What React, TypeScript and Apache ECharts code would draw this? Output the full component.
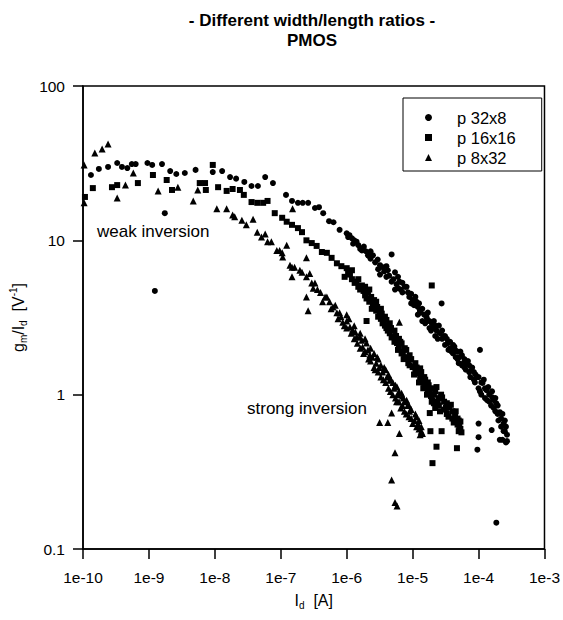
import { useEffect, useRef } from "react";
import * as echarts from "echarts";

// Decade tick labels for the two logarithmic axes
const xTickLabels = ["1e-10", "1e-9", "1e-8", "1e-7", "1e-6", "1e-5", "1e-4", "1e-3"];
const yTickLabels = ["0.1", "1", "10", "100"];

const seriesNames = ["p 32x8", "p 16x16", "p 8x32"];

// [Id (A), gm/Id (1/V)] measurements, W/L = 32/8
const p32x8: [number, number][] = [
  [1.32e-10, 26.5], [1.74e-10, 29.0], [2.4e-10, 29.9], [3.3e-10, 31.7], [3.9e-10, 29.9],
  [4.7e-10, 29.4], [5.5e-10, 31.2], [6.3e-10, 31.2], [9.5e-10, 31.7], [1.12e-9, 30.8],
  [1.23e-9, 4.7], [1.58e-9, 31.2], [1.74e-9, 15.0], [2.1e-9, 28.1], [2.6e-9, 26.9],
  [3.5e-9, 27.3], [5.1e-9, 28.6], [9.3e-9, 27.7], [1.29e-8, 28.1], [1.7e-8, 25.7],
  [2.1e-8, 25.1], [2.8e-8, 23.9], [3.6e-8, 22.5], [4.5e-8, 22.5], [5.8e-8, 25.7],
  [7.6e-8, 23.5], [1.2e-7, 19.7], [1.48e-7, 18.0], [1.82e-7, 17.5], [2.15e-7, 17.5],
  [2.6e-7, 17.5], [3.3e-7, 16.2], [3.8e-7, 16.4], [4.4e-7, 15.0], [5.4e-7, 13.3],
  [6.3e-7, 13.1], [7.8e-7, 11.7], [1.0e-6, 11.1], [1.05e-6, 10.5], [1.1e-6, 10.8],
  [1.2e-6, 10.3], [1.25e-6, 9.5], [1.3e-6, 10.0], [1.41e-6, 9.8], [1.5e-6, 9.3],
  [1.6e-6, 8.8], [1.7e-6, 8.6], [1.82e-6, 9.1], [1.95e-6, 8.5], [2.1e-6, 8.0],
  [2.2e-6, 7.9], [2.3e-6, 7.6], [2.3e-6, 8.5], [2.5e-6, 8.0], [2.7e-6, 7.2],
  [2.95e-6, 7.5], [3.0e-6, 6.5], [3.2e-6, 6.9], [3.2e-6, 6.0], [3.5e-6, 6.7],
  [3.7e-6, 6.3], [4.0e-6, 5.8], [4.0e-6, 6.8], [4.2e-6, 6.4], [4.4e-6, 5.9],
  [4.8e-6, 8.1], [4.8e-6, 5.4], [5.1e-6, 5.6], [5.4e-6, 6.2], [5.4e-6, 4.8],
  [5.7e-6, 5.2], [6.0e-6, 5.8], [6.0e-6, 4.9], [6.3e-6, 5.4], [6.6e-6, 4.8],
  [7.0e-6, 4.6], [7.0e-6, 5.3], [7.6e-6, 5.0], [8.1e-6, 5.0], [8.5e-6, 4.6],
  [8.9e-6, 4.3], [9.5e-6, 4.5], [9.5e-6, 3.9], [1.0e-5, 4.1], [1.05e-5, 3.8],
  [1.1e-5, 4.3], [1.15e-5, 4.0], [1.2e-5, 3.7], [1.2e-5, 3.3], [1.25e-5, 3.9],
  [1.29e-5, 3.5], [1.3e-5, 3.4], [1.4e-5, 3.6], [1.4e-5, 3.0], [1.5e-5, 3.3],
  [1.55e-5, 2.9], [1.62e-5, 3.2], [1.65e-5, 3.1], [1.7e-5, 3.4], [1.8e-5, 3.0],
  [1.8e-5, 2.7], [1.9e-5, 2.6], [1.95e-5, 2.9], [2.0e-5, 2.7], [2.1e-5, 3.0],
  [2.2e-5, 2.8], [2.2e-5, 2.4], [2.3e-5, 2.6], [2.4e-5, 2.3], [2.5e-5, 2.8],
  [2.57e-5, 2.5], [2.75e-5, 3.9], [2.8e-5, 2.3], [2.8e-5, 2.6], [2.9e-5, 2.4],
  [3.1e-5, 2.1], [3.1e-5, 2.4], [3.3e-5, 2.3], [3.4e-5, 2.16], [3.5e-5, 1.95],
  [3.7e-5, 2.0], [3.7e-5, 2.2], [3.9e-5, 1.9], [4.1e-5, 1.85], [4.1e-5, 2.1],
  [4.3e-5, 2.05], [4.4e-5, 1.95], [4.5e-5, 1.75], [4.8e-5, 1.7], [4.8e-5, 1.9],
  [5.0e-5, 1.6], [5.1e-5, 1.75], [5.3e-5, 1.9], [5.6e-5, 1.55], [5.6e-5, 1.8],
  [5.9e-5, 1.6], [6.1e-5, 1.5], [6.1e-5, 1.7], [6.4e-5, 1.45], [6.6e-5, 1.6],
  [6.9e-5, 1.65], [7.2e-5, 1.4], [7.2e-5, 1.55], [7.5e-5, 1.3], [7.8e-5, 1.44],
  [8.0e-5, 1.5], [8.5e-5, 1.25], [8.5e-5, 1.4], [8.8e-5, 1.2], [9.0e-5, 1.35],
  [9.3e-5, 1.3], [9.6e-5, 0.44], [1.0e-4, 1.1], [1.0e-4, 1.3], [1.0e-4, 0.65],
  [1.0e-4, 0.53], [1.05e-4, 1.95], [1.05e-4, 1.05], [1.1e-4, 1.0], [1.1e-4, 1.2],
  [1.15e-4, 1.19], [1.2e-4, 1.25], [1.25e-4, 0.95], [1.25e-4, 1.1], [1.32e-4, 1.07],
  [1.35e-4, 0.92], [1.4e-4, 1.12], [1.45e-4, 0.9], [1.45e-4, 1.0], [1.55e-4, 0.85],
  [1.58e-4, 0.59], [1.6e-4, 1.05], [1.62e-4, 0.96], [1.7e-4, 0.82], [1.7e-4, 0.92],
  [1.8e-4, 0.78], [1.8e-4, 0.95], [1.86e-4, 0.88], [1.86e-4, 0.148], [1.95e-4, 0.75],
  [1.95e-4, 0.85], [2.0e-4, 0.68], [2.1e-4, 0.77], [2.1e-4, 0.51], [2.2e-4, 0.7],
  [2.2e-4, 0.62], [2.3e-4, 0.51], [2.3e-4, 0.75], [2.4e-4, 0.58], [2.4e-4, 0.65],
  [2.5e-4, 0.68], [2.5e-4, 0.58], [2.6e-4, 0.62], [2.6e-4, 0.49], [2.7e-4, 0.55],
  [2.7e-4, 0.5],
];

// W/L = 16/16
const p16x16: [number, number][] = [
  [1.07e-10, 19.1], [1.41e-10, 21.8], [2.75e-10, 22.1], [3.3e-10, 22.8], [6.8e-10, 23.5],
  [1.15e-9, 26.5], [1.86e-9, 24.6], [2.24e-9, 21.2], [5.9e-9, 23.5], [7.1e-9, 23.5],
  [7.3e-9, 21.2], [9.3e-9, 30.8], [1.12e-8, 22.1], [1.51e-8, 20.9], [1.86e-8, 21.5],
  [2.4e-8, 21.2], [2.75e-8, 19.7], [3.6e-8, 17.7], [4.4e-8, 17.5], [5.4e-8, 17.5],
  [6.3e-8, 18.0], [8.1e-8, 15.0], [1.05e-7, 14.0], [1.23e-7, 13.2], [1.48e-7, 12.6],
  [1.82e-7, 12.0], [2.1e-7, 11.3], [2.45e-7, 10.0], [2.95e-7, 9.6], [3.5e-7, 9.2],
  [4.2e-7, 8.4], [5.0e-7, 8.3], [5.9e-7, 7.7], [7.1e-7, 7.1], [8.3e-7, 6.8],
  [9.3e-7, 5.8], [1.0e-6, 6.6], [1.05e-6, 6.2], [1.12e-6, 6.0], [1.2e-6, 5.6],
  [1.2e-6, 6.4], [1.32e-6, 5.3], [1.4e-6, 5.4], [1.5e-6, 5.0], [1.5e-6, 5.6],
  [1.6e-6, 4.8], [1.7e-6, 5.1], [1.74e-6, 4.9], [1.8e-6, 4.7], [1.9e-6, 4.4],
  [1.9e-6, 5.0], [2.0e-6, 3.0], [2.0e-6, 4.2], [2.1e-6, 4.6], [2.2e-6, 4.0],
  [2.2e-6, 4.8], [2.35e-6, 4.3], [2.4e-6, 3.6], [2.5e-6, 3.8], [2.6e-6, 4.1],
  [2.8e-6, 3.5], [2.8e-6, 4.0], [2.9e-6, 3.7], [3.0e-6, 3.2], [3.16e-6, 3.3],
  [3.3e-6, 3.1], [3.3e-6, 3.6], [3.4e-6, 3.35], [3.5e-6, 2.9], [3.65e-6, 3.0],
  [3.8e-6, 2.8], [3.8e-6, 3.2], [4.0e-6, 2.7], [4.0e-6, 3.05], [4.2e-6, 2.6],
  [4.5e-6, 2.5], [4.5e-6, 2.9], [4.7e-6, 2.7], [4.8e-6, 2.35], [5.0e-6, 2.36],
  [5.3e-6, 2.2], [5.3e-6, 2.6], [5.6e-6, 2.4], [5.8e-6, 2.16], [6.0e-6, 1.95],
  [6.2e-6, 2.0], [6.2e-6, 2.3], [6.5e-6, 2.2], [6.8e-6, 1.85], [6.8e-6, 2.15],
  [7.1e-6, 1.89], [7.3e-6, 1.7], [7.6e-6, 1.75], [7.6e-6, 2.0], [8.0e-6, 1.95],
  [8.3e-6, 1.73], [8.6e-6, 1.6], [9.0e-6, 1.55], [9.0e-6, 1.8], [9.5e-6, 1.7],
  [1.0e-5, 1.51], [1.05e-5, 1.35], [1.1e-5, 1.4], [1.1e-5, 1.6], [1.15e-5, 1.5],
  [1.2e-5, 1.38], [1.25e-5, 1.2], [1.3e-5, 1.3], [1.3e-5, 1.48], [1.35e-5, 1.4],
  [1.41e-5, 1.24], [1.45e-5, 1.1], [1.5e-5, 1.15], [1.5e-5, 1.3], [1.55e-5, 1.25],
  [1.62e-5, 1.12], [1.65e-5, 1.0], [1.7e-5, 1.05], [1.7e-5, 1.2], [1.75e-5, 1.15],
  [1.82e-5, 1.02], [1.82e-5, 0.76], [1.86e-5, 0.58], [1.9e-5, 0.98], [1.9e-5, 1.1],
  [1.95e-5, 5.1], [1.95e-5, 0.9], [2.0e-5, 0.92], [2.0e-5, 0.36], [2.1e-5, 0.88],
  [2.1e-5, 1.0], [2.2e-5, 0.82], [2.2e-5, 1.05], [2.3e-5, 1.12], [2.3e-5, 0.46],
  [2.4e-5, 0.9], [2.5e-5, 0.85], [2.5e-5, 0.95], [2.6e-5, 0.78], [2.7e-5, 1.0],
  [2.75e-5, 0.58], [2.8e-5, 0.96], [3.0e-5, 0.8], [3.0e-5, 0.9], [3.2e-5, 0.82],
  [3.3e-5, 0.75], [3.3e-5, 0.88], [3.5e-5, 0.72], [3.6e-5, 0.83], [3.8e-5, 0.86],
  [4.0e-5, 0.7], [4.0e-5, 0.78], [4.2e-5, 0.66], [4.4e-5, 0.72], [4.5e-5, 0.78],
  [4.7e-5, 0.45], [4.8e-5, 0.64], [4.8e-5, 0.7], [5.0e-5, 0.58], [5.0e-5, 0.68],
  [5.1e-5, 0.62], [5.3e-5, 0.6], [5.3e-5, 0.67], [5.5e-5, 0.57],
];

// W/L = 8/32
const p8x32: [number, number][] = [
  [1.04e-10, 30.8], [1.04e-10, 17.5], [1.51e-10, 36.8], [1.95e-10, 39.1], [2.4e-10, 42.1],
  [3.3e-10, 18.8], [4.4e-10, 22.8], [5.8e-10, 27.3], [1.38e-9, 20.9], [2.75e-9, 22.1],
  [4.7e-9, 18.0], [5.5e-9, 21.2], [1.07e-8, 16.0], [1.51e-8, 16.0], [1.86e-8, 14.6],
  [2.0e-8, 14.2], [2.57e-8, 13.5], [3.0e-8, 12.6], [3.8e-8, 13.7], [4.4e-8, 11.3],
  [5.1e-8, 10.5], [5.8e-8, 11.0], [6.3e-8, 9.8], [7.2e-8, 9.8], [8.7e-8, 8.6],
  [9.6e-8, 8.6], [1.05e-7, 8.3], [1.07e-7, 7.8], [1.23e-7, 9.3], [1.38e-7, 6.9],
  [1.48e-7, 6.7], [1.48e-7, 5.8], [1.51e-7, 16.0], [1.62e-7, 6.7], [1.95e-7, 6.4],
  [2.1e-7, 6.2], [2.45e-7, 7.7], [2.45e-7, 5.8], [2.45e-7, 4.3], [2.6e-7, 3.5],
  [2.75e-7, 6.1], [2.95e-7, 5.3], [3.1e-7, 4.9], [3.3e-7, 5.3], [3.6e-7, 4.8],
  [4.0e-7, 4.6], [4.3e-7, 4.0], [4.7e-7, 4.3], [5.0e-7, 4.3], [5.5e-7, 4.0],
  [5.8e-7, 3.6], [6.2e-7, 3.7], [6.7e-7, 3.8], [7.1e-7, 3.4], [7.4e-7, 3.1],
  [7.8e-7, 3.4], [8.2e-7, 3.2], [8.7e-7, 2.95], [9.2e-7, 2.8], [1.0e-6, 3.0],
  [1.0e-6, 2.7], [1.0e-6, 3.3], [1.08e-6, 3.1], [1.12e-6, 2.74], [1.17e-6, 2.5],
  [1.23e-6, 2.62], [1.3e-6, 2.3], [1.3e-6, 2.8], [1.35e-6, 2.55], [1.41e-6, 2.36],
  [1.45e-6, 2.15], [1.58e-6, 2.36], [1.6e-6, 2.0], [1.6e-6, 2.5], [1.7e-6, 2.25],
  [1.74e-6, 2.04], [1.8e-6, 1.85], [1.9e-6, 1.9], [1.9e-6, 2.3], [2.0e-6, 2.16],
  [2.1e-6, 1.95], [2.15e-6, 1.7], [2.24e-6, 1.81], [2.3e-6, 1.65], [2.3e-6, 2.0],
  [2.45e-6, 1.75], [2.6e-6, 1.5], [2.6e-6, 1.85], [2.7e-6, 1.45], [2.8e-6, 1.6],
  [2.9e-6, 1.75], [3.0e-6, 1.4], [3.0e-6, 1.7], [3.1e-6, 1.5], [3.16e-6, 0.66],
  [3.3e-6, 1.3], [3.3e-6, 1.55], [3.5e-6, 1.4], [3.6e-6, 1.25], [3.7e-6, 1.5],
  [3.9e-6, 1.2], [3.9e-6, 1.45], [4.1e-6, 1.3], [4.2e-6, 0.66], [4.3e-6, 1.1],
  [4.3e-6, 1.35], [4.5e-6, 1.24], [4.6e-6, 1.05], [4.7e-6, 1.25], [4.8e-6, 0.76],
  [4.8e-6, 0.28], [5.0e-6, 1.0], [5.0e-6, 1.2], [5.2e-6, 1.1], [5.4e-6, 0.42],
  [5.4e-6, 0.2], [5.5e-6, 0.95], [5.5e-6, 1.15], [5.7e-6, 0.9], [5.8e-6, 1.12],
  [5.8e-6, 0.19], [6.0e-6, 1.0], [6.2e-6, 0.9], [6.2e-6, 1.05], [6.3e-6, 0.56],
  [6.3e-6, 2.95], [6.6e-6, 0.82], [6.8e-6, 1.02], [7.0e-6, 0.85], [7.0e-6, 0.98],
  [7.2e-6, 0.95], [7.5e-6, 0.78], [7.5e-6, 0.9], [8.0e-6, 0.75], [8.1e-6, 0.92],
  [8.4e-6, 0.85], [8.8e-6, 0.72], [8.8e-6, 0.85], [9.0e-6, 0.78], [9.5e-6, 0.7],
  [9.5e-6, 0.8], [1.0e-5, 0.65], [1.07e-5, 0.68], [1.1e-5, 0.75], [1.15e-5, 0.62],
  [1.15e-5, 0.72], [1.2e-5, 0.65], [1.25e-5, 0.6], [1.25e-5, 0.68], [1.3e-5, 0.55],
  [1.35e-5, 0.58], [1.35e-5, 0.62], [1.41e-5, 0.56],
];

const FONT = "'Liberation Sans', Arial, Helvetica, sans-serif";

const exponentIndex = (v: number, base: number) => Math.round(Math.log10(v)) - base;

export default function App() {
  const ref = useRef<HTMLDivElement>(null);

  useEffect(() => {
    if (!ref.current) return;
    const chart = echarts.init(ref.current, null, { renderer: "svg" });

    const subRich = {
      n: { fontSize: 16, lineHeight: 20, fontFamily: FONT, color: "#000" },
      s: { fontSize: 10, lineHeight: 10, fontFamily: FONT, color: "#000", verticalAlign: "bottom" as const },
      p: { fontSize: 10, lineHeight: 10, fontFamily: FONT, color: "#000", verticalAlign: "top" as const },
    };

    const scatter = (name: string, data: [number, number][], symbol: string, size: number) => ({
      type: "scatter" as const,
      name,
      data,
      symbol,
      symbolSize: size,
      itemStyle: { color: "#000", opacity: 1 },
      emphasis: { disabled: true },
    });

    chart.setOption({
      animation: false,
      backgroundColor: "#fff",
      textStyle: { fontFamily: FONT, color: "#000" },
      title: {
        text: "- Different width/length ratios -\nPMOS",
        left: 307,
        top: 5,
        textAlign: "center",
        textStyle: { fontFamily: FONT, fontSize: 17, fontWeight: "bold", color: "#000", lineHeight: 20 },
      },
      legend: {
        orient: "vertical",
        left: 403,
        top: 98,
        itemWidth: 7,
        itemHeight: 7,
        itemGap: 3,
        borderColor: "#000",
        borderWidth: 1,
        padding: [11, 26, 5, 22],
        selectedMode: false,
        textStyle: { fontFamily: FONT, fontSize: 16.5, color: "#000", padding: [0, 0, 0, 20] },
        data: [
          { name: seriesNames[0], icon: "circle" },
          { name: seriesNames[1], icon: "rect" },
          { name: seriesNames[2], icon: "triangle" },
        ],
      },
      grid: {
        left: 83,
        right: 18,
        top: 86,
        bottom: 71,
        show: true,
        borderColor: "#000",
        borderWidth: 1.5,
        backgroundColor: "transparent",
      },
      xAxis: {
        type: "log",
        logBase: 10,
        min: 1e-10,
        max: 1e-3,
        splitNumber: 7,
        axisLine: { show: true, lineStyle: { color: "#000", width: 1.5 } },
        axisTick: { show: true, inside: false, length: 10, lineStyle: { color: "#000", width: 1.5 } },
        minorTick: { show: false },
        splitLine: { show: false },
        axisLabel: {
          margin: 20,
          fontSize: 15.5,
          fontFamily: FONT,
          color: "#000",
          formatter: (v: number) => xTickLabels[exponentIndex(v, -10)],
        },
        name: "{n|I}{s|d}{n|  [A]}",
        nameLocation: "middle",
        nameGap: 41,
        nameTextStyle: { rich: subRich },
      },
      yAxis: {
        type: "log",
        logBase: 10,
        min: 0.1,
        max: 100,
        splitNumber: 3,
        axisLine: { show: true, lineStyle: { color: "#000", width: 1.5 } },
        axisTick: { show: true, inside: false, length: 10, lineStyle: { color: "#000", width: 1.5 } },
        minorTick: { show: false },
        splitLine: { show: false },
        axisLabel: {
          margin: 18,
          fontSize: 15.5,
          fontFamily: FONT,
          color: "#000",
          formatter: (v: number) => yTickLabels[exponentIndex(v, -1)],
        },
        name: "{n|g}{s|m}{n|/I}{s|d}{n|  [V}{p|-1}{n|]}",
        nameLocation: "middle",
        nameGap: 50,
        nameTextStyle: { rich: subRich },
      },
      graphic: [
        {
          type: "text",
          x: 97,
          y: 231,
          style: { text: "weak inversion", font: `17px ${FONT}`, fill: "#000", textVerticalAlign: "middle" },
        },
        {
          type: "text",
          x: 247,
          y: 408,
          style: { text: "strong inversion", font: `17px ${FONT}`, fill: "#000", textVerticalAlign: "middle" },
        },
      ],
      series: [
        scatter(seriesNames[0], p32x8, "circle", 6),
        scatter(seriesNames[1], p16x16, "rect", 6),
        scatter(seriesNames[2], p8x32, "triangle", 7),
      ],
    });

    return () => chart.dispose();
  }, []);

  return <div ref={ref} style={{ position: "absolute", left: 0, top: 0, width: 563, height: 620 }} />;
}
